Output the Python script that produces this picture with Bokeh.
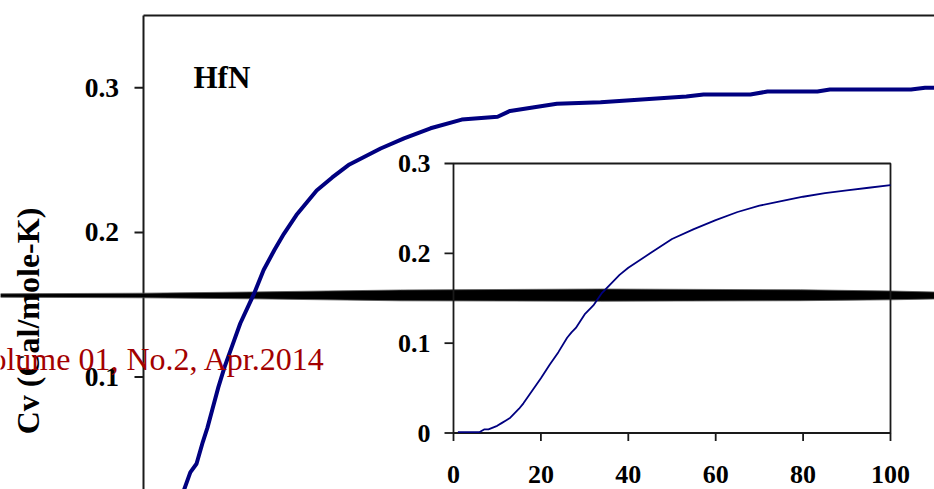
import numpy as np
from bokeh.plotting import figure
from bokeh.models import Range1d
from bokeh.core.properties import value
from bokeh.embed import file_html
from bokeh.resources import INLINE

# Heat capacity of HfN, full temperature range (K, cal/mole-K)
main_T = [10, 13, 15, 17, 19, 20.5, 22, 24, 26, 29, 31, 35.5, 38.5, 42, 45, 49,
          55.5, 60.5, 66, 76, 83.5, 92, 102, 113.5, 117.5, 132.5, 146.5, 174,
          179.5, 194.5, 200, 216, 220, 246, 250.5, 260]
main_cv = [0.008, 0.022, 0.034, 0.040, 0.055, 0.065, 0.077, 0.093, 0.107, 0.125,
           0.137, 0.158, 0.174, 0.188, 0.199, 0.212, 0.229, 0.238, 0.247, 0.258,
           0.265, 0.272, 0.278, 0.280, 0.284, 0.289, 0.290, 0.294, 0.2954, 0.2954,
           0.2974, 0.2974, 0.2988, 0.2988, 0.300, 0.300]

# Low-temperature detail, 0-100 K
inset_T = [1, 2, 3, 4, 5, 6, 7, 8, 9, 10, 11, 12, 13, 14, 15, 16, 17, 18, 19, 20,
           22, 24, 26, 27, 28, 30, 32, 34, 36, 38, 40, 45, 50, 55, 60, 65, 70, 75,
           80, 85, 90, 95, 100]
inset_cv = [0.001, 0.001, 0.001, 0.001, 0.001, 0.001, 0.004, 0.004, 0.006, 0.008,
            0.011, 0.014, 0.017, 0.022, 0.027, 0.033, 0.040, 0.047, 0.054, 0.061,
            0.076, 0.090, 0.106, 0.112, 0.117, 0.132, 0.142, 0.156, 0.166, 0.176,
            0.184, 0.200, 0.216, 0.227, 0.237, 0.246, 0.253, 0.258, 0.263, 0.267,
            0.270, 0.273, 0.276]

main_yticks = [0.1, 0.2, 0.3]
main_ytick_labels = ["0.1", "0.2", "0.3"]
inset_xticks = [0, 20, 40, 60, 80, 100]
inset_xtick_labels = ["0", "20", "40", "60", "80", "100"]
inset_yticks = [0, 0.1, 0.2, 0.3]
inset_ytick_labels = ["0", "0.1", "0.2", "0.3"]

y_title = "Cv (Cal/mole-K)"
compound = "HfN"
header = "Volume 01, No.2, Apr.2014"

# ---- page geometry (pixels) ----
W, H = 934, 489
MAIN_X0 = 143.0          # column of T = 0
MAIN_PX_PER_K = 3.12
MAIN_ROW_03 = 87.3       # row of Cv = 0.3
MAIN_PX_PER_CV = 1446.0
MAIN_TOP = 0.35          # upper limit of the main value axis

INS_LEFT, INS_RIGHT = 453.0, 890.0
INS_TOP, INS_BOTTOM = 163.0, 432.5
INS_XMAX, INS_YMAX = 100.0, 0.3

SERIF = value("Liberation Serif")
NAVY = "#000080"

main_x = Range1d(-MAIN_X0 / MAIN_PX_PER_K, (W - MAIN_X0) / MAIN_PX_PER_K)
main_y = Range1d(0.3 - (H - MAIN_ROW_03) / MAIN_PX_PER_CV, 0.3 + MAIN_ROW_03 / MAIN_PX_PER_CV)

ikx = (INS_RIGHT - INS_LEFT) / INS_XMAX
iky = (INS_BOTTOM - INS_TOP) / INS_YMAX

p = figure(width=W, height=H, x_range=main_x, y_range=main_y,
           output_backend="svg", toolbar_location=None,
           x_axis_type=None, y_axis_type=None,
           min_border=0, min_border_left=0, min_border_right=0,
           min_border_top=0, min_border_bottom=0)
p.outline_line_color = None
p.background_fill_color = "white"
p.border_fill_color = "white"
p.grid.visible = False

p.extra_x_ranges = {
    "ix": Range1d(-INS_LEFT / ikx, (W - INS_LEFT) / ikx),
    "px": Range1d(0, W),
}
p.extra_y_ranges = {
    "iy": Range1d(-(H - INS_BOTTOM) / iky, INS_BOTTOM / iky),
    "px": Range1d(H, 0),
}

# ---- main panel frame and value axis ----
p.multi_line(xs=[[0, 0], [0, main_x.end + 20]],
             ys=[[MAIN_TOP, main_y.start - 0.05], [MAIN_TOP, MAIN_TOP]],
             line_color="#1a1a1a", line_width=2)
p.segment(x0=[MAIN_X0 - 9] * len(main_yticks), x1=[MAIN_X0] * len(main_yticks),
          y0=main_yticks, y1=main_yticks, x_range_name="px",
          line_color="#1a1a1a", line_width=2)
p.text(x=[MAIN_X0 - 24.5] * len(main_yticks), y=main_yticks, text=main_ytick_labels,
       x_range_name="px", text_font=SERIF, text_font_style="bold",
       text_font_size="27.5px", text_align="right", text_baseline="middle",
       text_color="black")

# ---- dark band across the page ----
band_x = [0, 143, 250, 400, 600, 800, 890, 934, 934, 890, 800, 600, 400, 250, 143, 0]
band_y = [293.3, 292.7, 291.5, 289.5, 288.5, 289.3, 290.5, 291.5,
          298.5, 299.3, 300.2, 300.7, 300.3, 298.3, 297.3, 296.7]
p.patch(band_x, band_y, x_range_name="px", y_range_name="px",
        fill_color="black", line_color="#555555", line_width=0.8)

# ---- main curve ----
p.line(main_T, main_cv, line_color=NAVY, line_width=4, line_join="round")

p.text(x=[193], y=[76.5], text=[compound], x_range_name="px", y_range_name="px",
       text_font=SERIF, text_font_style="bold", text_font_size="31px",
       text_align="left", text_baseline="middle", text_color="black")

# ---- inset panel ----
p.line(x=[0, INS_XMAX, INS_XMAX, 0, 0], y=[0, 0, INS_YMAX, INS_YMAX, 0],
       x_range_name="ix", y_range_name="iy", line_color="#1a1a1a", line_width=1.8)
p.segment(x0=[INS_LEFT - 9] * len(inset_yticks), x1=[INS_LEFT] * len(inset_yticks),
          y0=inset_yticks, y1=inset_yticks, x_range_name="px", y_range_name="iy",
          line_color="#1a1a1a", line_width=1.8)
p.segment(x0=inset_xticks, x1=inset_xticks,
          y0=[INS_BOTTOM] * len(inset_xticks), y1=[INS_BOTTOM + 8] * len(inset_xticks),
          x_range_name="ix", y_range_name="px", line_color="#1a1a1a", line_width=1.8)
p.text(x=[INS_LEFT - 23] * len(inset_yticks), y=inset_yticks, text=inset_ytick_labels,
       x_range_name="px", y_range_name="iy", text_font=SERIF, text_font_style="bold",
       text_font_size="26px", text_align="right", text_baseline="middle",
       text_color="black")
p.text(x=inset_xticks, y=[INS_BOTTOM + 41.5] * len(inset_xticks), text=inset_xtick_labels,
       x_range_name="ix", y_range_name="px", text_font=SERIF, text_font_style="bold",
       text_font_size="26px", text_align="center", text_baseline="middle",
       text_color="black")
p.line(inset_T, inset_cv, x_range_name="ix", y_range_name="iy",
       line_color=NAVY, line_width=1.8, line_join="round")

# ---- axis title and running header ----
p.text(x=[27], y=[320.5], text=[y_title], angle=np.pi / 2,
       x_range_name="px", y_range_name="px", text_font=SERIF,
       text_font_style="bold", text_font_size="32px", text_align="center",
       text_baseline="middle", text_color="black")
p.text(x=[325], y=[358.5], text=[header], x_range_name="px", y_range_name="px",
       text_font=SERIF, text_font_size="32px", text_align="right",
       text_baseline="middle", text_color="#a30000")

open("out.html", "w").write(file_html(p, INLINE))
